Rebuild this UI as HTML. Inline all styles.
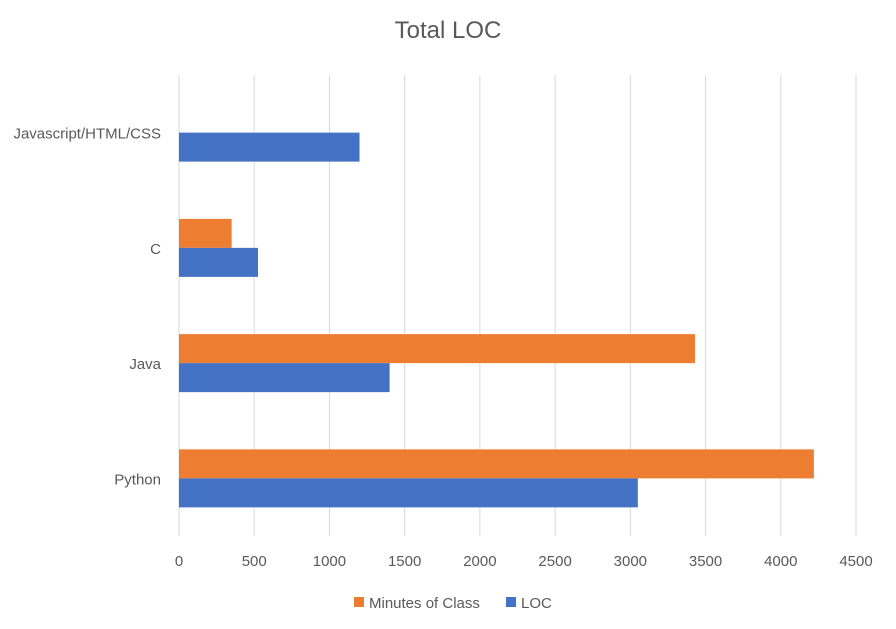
<!DOCTYPE html>
<html><head><meta charset="utf-8"><style>
body{margin:0;background:#fff;font-family:"Liberation Sans",sans-serif}
svg text{font-family:"Liberation Sans",sans-serif;fill:#595959}
</style></head><body>
<svg id="chart" width="896" height="624">
<text x="448" y="38" text-anchor="middle" font-size="24">Total LOC</text>
<g id="grid"></g><g id="bars"></g><g id="labels"></g>
<g>
<rect x="354" y="597" width="10" height="10" fill="#ED7D31"></rect>
<text x="369" y="608" font-size="15">Minutes of Class</text>
<rect x="506" y="597" width="10" height="10" fill="#4472C4"></rect>
<text x="521" y="608" font-size="15">LOC</text>
</g>
</svg>
<script>
const categories=["Javascript/HTML/CSS","C","Java","Python"];
const minutesOfClass=[0,350,3430,4220];
const loc=[1200,525,1400,3050];
const ticks=[0,500,1000,1500,2000,2500,3000,3500,4000,4500];
const NS="http://www.w3.org/2000/svg";
const x0=179,x1=856,y0=75,y1=536,maxV=4500;
const xs=v=>x0+(v/maxV)*(x1-x0);
const band=(y1-y0)/categories.length;
const yc=i=>y0+band*(i+0.5);
const grid=document.getElementById('grid'),bars=document.getElementById('bars'),labels=document.getElementById('labels');
function mk(t,a){const e=document.createElementNS(NS,t);for(const k in a)e.setAttribute(k,a[k]);return e;}
ticks.forEach(t=>{
 const l=mk('line',{x1:xs(t),x2:xs(t),y1:y0,y2:y1,stroke:'#d9d9d9','stroke-width':1});
 
 
 grid.appendChild(l);
 const tx=mk('text',{x:xs(t),y:566,'text-anchor':'middle','font-size':15});
 
 
 tx.textContent=t;labels.appendChild(tx);
});
const bh=29;
categories.forEach((c,i)=>{
 const cy=yc(i);
 if(minutesOfClass[i]>0){
  const r=mk('rect',{x:x0,y:cy-bh,width:xs(minutesOfClass[i])-x0,height:bh,fill:'#ED7D31'});
  
  
  bars.appendChild(r);
 }
 const r2=mk('rect',{x:x0,y:cy,width:xs(loc[i])-x0,height:bh,fill:'#4472C4'});
 
 
 bars.appendChild(r2);
 const tx=mk('text',{x:161,y:cy+6,'text-anchor':'end','font-size':15});
 
 
 tx.textContent=c;labels.appendChild(tx);
});
</script>
</body></html>
